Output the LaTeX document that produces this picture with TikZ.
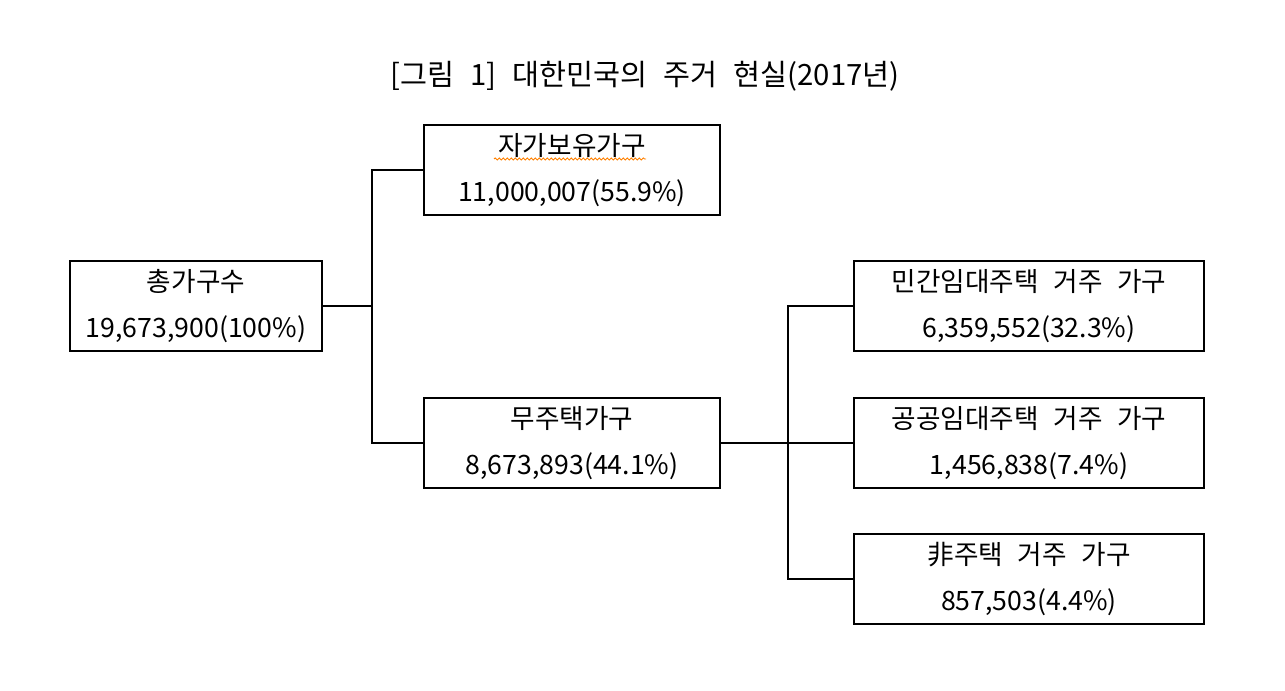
\documentclass[tikz,border=0pt]{standalone}
\usepackage{fontspec}
\setmainfont{Noto Sans CJK KR}
\usepackage{xcolor}
\usepackage{tikz}
\usetikzlibrary{decorations.pathmorphing}

\newcommand{\wsp}{\hspace{0.55em}}

\tikzset{
  box/.style={draw, line width=1.3pt, rectangle, align=center, inner sep=0pt,
    minimum height=68pt, font=\fontsize{20}{34}\selectfont},
  link/.style={line width=1.3pt},
}

\begin{document}
\begin{tikzpicture}[x=0.75pt,y=-0.75pt]
\useasboundingbox (0,0) rectangle (1285,691);
% title
\node (title) at (645,76) {\fontsize{22}{26}\selectfont [그림\wsp 1]\wsp 대한민국의\wsp 주거\wsp 현실(2017년)};
% boxes
\node[box, minimum width=189pt] (total) at (196,306) {총가구수\\19,673,900(100\%)};
\node[box, minimum width=222pt] (own) at (572,170) {자가보유가구\\11,000,007(55.9\%)};
\node[box, minimum width=222pt] (none) at (572,443) {무주택가구\\8,673,893(44.1\%)};
\node[box, minimum width=262.5pt] (priv) at (1029,306) {민간임대주택\wsp 거주\wsp 가구\\6,359,552(32.3\%)};
\node[box, minimum width=262.5pt] (pub) at (1029,443) {공공임대주택\wsp 거주\wsp 가구\\1,456,838(7.4\%)};
\node[box, minimum width=262.5pt] (etc) at (1029,579) {非주택\wsp 거주\wsp 가구\\857,503(4.4\%)};
% spell-check mark
\draw[orange, line width=0.7pt, decorate, decoration={snake, amplitude=0.8pt, segment length=3pt}]
  (494,159) -- (646,159);
% first split
\coordinate (split1) at (372,306);
\draw[link] (total.east) -- (split1);
\draw[link] (own.west) -| (split1);
\draw[link] (none.west) -| (split1);
% second split
\coordinate (split2) at (788,443);
\draw[link] (none.east) -- (pub.west);
\draw[link] (priv.west) -| (split2);
\draw[link] (etc.west) -| (split2);
\end{tikzpicture}
\end{document}
